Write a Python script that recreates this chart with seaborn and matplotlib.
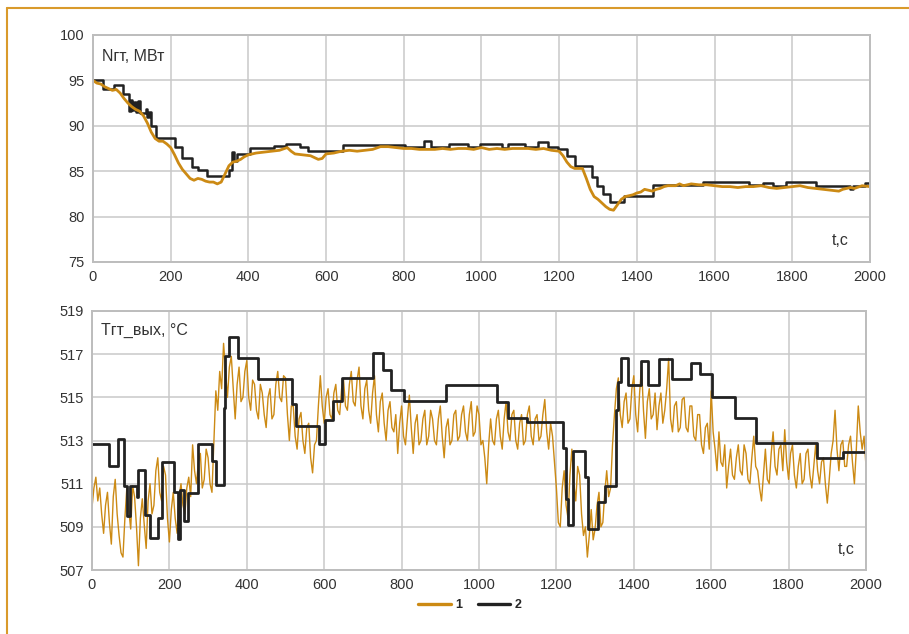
import numpy as np
import pandas as pd
import matplotlib
matplotlib.use("Agg")
import matplotlib.pyplot as plt
import seaborn as sns
from matplotlib.lines import Line2D
from matplotlib.ticker import MultipleLocator

# ---------------- data ----------------
# top panel: Nгт, MW
n_model_t = [0, 10, 20, 30, 40, 50, 60, 70, 80, 90, 100, 110, 120, 130, 140, 150, 160, 170, 180, 190,
             200, 210, 220, 230, 240, 250, 260, 270, 280, 290, 300, 310, 320, 330, 340, 350, 360, 370, 380, 390,
             400, 410, 420, 440, 460, 480, 500, 510, 520, 540, 560, 580, 590, 600, 620, 640, 660, 680, 700, 720,
             740, 760, 780, 800, 820, 840, 860, 880, 900, 920, 940, 960, 980, 1000, 1020, 1040, 1060, 1080, 1100,
             1120, 1140, 1160, 1180, 1200, 1210, 1220, 1230, 1240, 1250, 1260, 1270, 1280, 1290, 1300, 1310, 1320,
             1330, 1340, 1350, 1360, 1370, 1380, 1390, 1400, 1410, 1420, 1430, 1440, 1450, 1460, 1470, 1480, 1500,
             1510, 1520, 1530, 1540, 1560, 1580, 1600, 1620, 1640, 1660, 1680, 1700, 1720, 1740, 1760, 1780, 1800,
             1820, 1840, 1860, 1880, 1900, 1920, 1930, 1950, 1960, 1980, 2000]
n_model = [95.0, 94.7, 94.6, 94.3, 94.1, 93.9, 94.0, 93.6, 93.0, 92.5, 92.1, 91.8, 91.6, 91.1, 90.3, 89.3, 88.6, 88.3, 88.3, 88.0,
           87.6, 86.8, 85.9, 85.2, 84.7, 84.2, 84.0, 84.2, 84.1, 83.9, 83.8, 83.8, 83.6, 83.8, 84.7, 85.6, 86.0, 86.1, 86.3, 86.6,
           86.8, 86.9, 87.0, 87.1, 87.2, 87.3, 87.6, 87.2, 86.9, 86.8, 86.7, 86.3, 86.4, 86.9, 87.0, 87.2, 87.3, 87.2, 87.3, 87.4,
           87.7, 87.7, 87.6, 87.5, 87.5, 87.4, 87.4, 87.4, 87.5, 87.4, 87.5, 87.5, 87.4, 87.6, 87.4, 87.5, 87.4, 87.5, 87.5,
           87.5, 87.4, 87.5, 87.3, 87.2, 86.7, 86.0, 85.5, 85.3, 85.3, 85.3, 84.2, 83.0, 82.2, 81.9, 81.5, 81.1,
           80.8, 80.7, 81.3, 81.9, 82.2, 82.3, 82.4, 82.6, 82.7, 83.0, 82.9, 82.8, 83.0, 83.1, 83.3, 83.4, 83.4,
           83.6, 83.4, 83.5, 83.6, 83.5, 83.5, 83.4, 83.3, 83.3, 83.2, 83.3, 83.3, 83.4, 83.2, 83.1, 83.2, 83.3,
           83.4, 83.2, 83.1, 83.0, 82.9, 82.8, 83.0, 83.2, 83.1, 83.4, 83.3]

n_meas_t = [0, 26, 54, 77, 92, 97, 100, 105, 110, 115, 120, 127, 137, 140, 145, 150, 163, 211, 229, 254,
            271, 294, 350, 358, 362, 372, 405, 465, 496, 533, 554, 643, 802, 853, 870, 916, 965, 997, 1052,
            1069, 1112, 1146, 1172, 1197, 1219, 1242, 1285, 1297, 1313, 1331, 1368, 1405, 1441, 1570, 1690,
            1724, 1750, 1784, 1862, 1948, 1957, 1987, 2000]
n_meas = [95.05, 94.1, 94.45, 93.55, 91.6, 92.8, 91.7, 92.6, 91.5, 92.7, 91.4, 91.4, 91.9, 91.0, 91.5, 90.0, 88.7, 87.7, 86.4, 85.5,
          85.1, 84.5, 85.1, 87.1, 86.1, 86.9, 87.6, 87.8, 88.0, 87.7, 87.25, 87.9, 87.7, 88.3, 87.7, 88.0, 87.65, 88.0, 87.55,
          88.0, 87.65, 88.25, 87.7, 87.4, 86.7, 85.6, 84.4, 83.4, 82.5, 81.6, 82.3, 82.3, 83.5, 83.85, 83.5,
          83.65, 83.4, 83.8, 83.4, 83.0, 83.35, 83.7, 83.7]

# bottom panel: Tгт_вых, °C  (model every 5 s)
t_model_t = list(range(0, 2001, 5))
t_model = [
    509.9, 510.8, 511.3, 510.2, 510.8, 509.6, 508.7, 510.0, 510.6, 509.2,
    508.2, 510.4, 511.2, 509.6, 508.6, 507.8, 507.6, 509.4, 510.8, 509.8,
    508.9, 510.9, 510.4, 509.0, 507.2, 509.4, 510.3, 509.1, 508.0, 510.2,
    511.0, 509.6, 510.0, 511.6, 512.2, 510.6, 510.2, 511.8, 511.4, 509.4,
    508.3, 509.8, 510.6, 509.4, 508.7, 510.4, 511.0, 510.0, 509.6, 510.8,
    511.3, 510.4, 512.8, 511.6, 511.0, 512.0, 512.4, 510.8, 511.2, 512.6,
    512.2, 511.0, 510.6, 513.0, 515.3, 514.4, 516.2, 515.4, 517.5, 516.2,
    515.0, 516.4, 516.9, 515.4, 514.0, 515.6, 516.4, 514.8, 515.0, 516.2,
    516.7, 515.0, 514.4, 515.8, 515.6, 514.4, 514.0, 515.6, 515.2, 514.2,
    513.6, 515.0, 515.4, 514.0, 514.2, 515.6, 516.2, 515.0, 514.8, 516.0,
    515.9, 514.2, 513.0, 514.6, 514.6, 513.2, 512.6, 514.0, 514.3, 513.0,
    512.4, 513.6, 513.8, 512.2, 511.5, 512.8, 513.0, 514.6, 516.0, 514.6,
    513.8, 515.0, 515.4, 514.2, 514.0, 515.2, 515.6, 514.4, 514.2, 515.4,
    515.8, 514.6, 514.4, 515.6, 516.2, 514.8, 514.6, 515.8, 516.4, 514.6,
    514.0, 515.4, 515.8, 514.4, 513.8, 515.2, 516.0, 514.2, 513.4, 514.8,
    515.2, 513.8, 513.0, 514.4, 514.8, 513.6, 513.4, 514.2, 512.4, 513.8,
    514.6, 513.2, 512.8, 514.0, 515.1, 513.6, 512.4, 513.8, 514.2, 512.8,
    513.0, 514.0, 514.4, 512.8, 513.2, 514.4, 514.0, 513.0, 512.8, 514.0,
    514.6, 513.2, 512.2, 513.6, 514.0, 512.8, 513.0, 514.2, 514.4, 513.0,
    513.2, 514.2, 514.6, 513.4, 513.0, 514.2, 514.8, 513.2, 513.4, 514.6,
    514.2, 512.8, 513.0, 512.2, 511.0, 512.8, 514.0, 513.0, 512.8, 514.0,
    514.4, 513.2, 512.6, 514.0, 514.8, 513.4, 513.0, 514.2, 514.4, 513.0,
    512.6, 513.8, 514.2, 512.8, 513.0, 514.2, 514.6, 513.2, 512.8, 514.0,
    514.2, 513.0, 513.2, 514.2, 514.9, 513.4, 512.6, 513.8, 513.2, 512.0,
    510.8, 509.2, 509.0, 510.8, 511.6, 510.0, 509.4, 511.4, 512.6, 511.0,
    510.2, 511.8, 511.4, 509.6, 508.6, 509.0, 507.6, 508.6, 509.8, 508.4,
    508.9, 510.0, 510.6, 509.0, 509.2, 510.6, 511.6, 510.4, 510.8, 512.8,
    514.2, 515.4, 515.9, 514.2, 513.6, 514.8, 515.2, 513.8, 514.0, 515.4,
    516.0, 514.2, 513.4, 515.2, 516.4, 514.4, 513.1, 514.8, 515.4, 514.0,
    514.2, 515.2, 513.5, 514.6, 515.2, 513.8, 514.4, 515.4, 516.8, 514.0,
    513.4, 514.6, 514.8, 513.4, 513.6, 514.9, 515.0, 513.6, 513.4, 514.6,
    514.6, 513.2, 513.0, 514.2, 514.2, 512.8, 512.4, 513.6, 513.8, 512.6,
    515.3, 513.4, 512.6, 511.6, 513.4, 512.0, 511.8, 512.8, 510.8, 511.8,
    512.6, 511.4, 511.2, 512.2, 512.8, 511.6, 511.4, 512.8, 512.4, 511.2,
    511.0, 512.2, 513.2, 511.8, 511.6, 510.8, 510.2, 511.4, 512.6, 511.2,
    511.0, 512.4, 513.4, 511.8, 511.4, 512.6, 512.8, 511.6, 513.5, 512.0,
    511.2, 512.4, 512.8, 511.4, 510.8, 511.8, 512.4, 511.0, 511.2, 512.4,
    512.6, 511.4, 510.8, 511.8, 512.8, 511.6, 511.0, 512.0, 512.2, 511.0,
    510.1, 511.2, 512.4, 513.0, 514.4, 512.6, 511.6, 512.8, 513.0, 511.8,
    511.8, 512.8, 513.2, 512.0, 511.0, 512.6, 514.6, 513.4, 512.6, 513.2,
    511.8,
]

t_meas_t = [0, 43, 67, 84, 91, 97, 117, 119, 137, 151, 170, 180, 212, 222, 228, 239, 247, 273, 310, 320,
            340, 344, 355, 376, 428, 517, 526, 586, 603, 622, 646, 725, 751, 772, 807, 914, 1047, 1075, 1125,
            1216, 1224, 1230, 1242, 1273, 1282, 1308, 1325, 1354, 1360, 1367, 1385, 1419, 1437, 1466, 1499,
            1549, 1572, 1602, 1662, 1715, 1873, 1941, 2000]
t_meas = [512.85, 511.8, 513.05, 510.9, 509.5, 510.9, 510.4, 511.65, 509.55, 508.5, 509.4, 512.0, 510.6, 508.45, 510.7, 509.25, 510.55, 512.85, 512.05, 510.95,
          514.5, 516.9, 517.8, 516.8, 515.85, 514.7, 513.65, 512.85, 513.95, 514.85, 515.9, 517.07, 516.27, 515.35, 514.85, 515.55, 514.8, 514.05, 513.85,
          512.64, 510.3, 509.1, 512.5, 511.3, 508.9, 510.17, 510.9, 514.4, 515.7, 516.8, 515.55, 516.7, 515.55, 516.76, 515.83,
          516.6, 516.1, 515.0, 514.03, 512.9, 512.2, 512.48, 512.48]

x_ticks = list(range(0, 2001, 200))
top_yticks = [75, 80, 85, 90, 95, 100]
bot_yticks = [507, 509, 511, 513, 515, 517, 519]

ORANGE = "#cc8a14"
BLACK = "#222222"
GRID = "#c9c9c9"
FRAME = "#d99a2b"
TXT = "#333333"

# ---------------- plot ----------------
sns.set_style("white")
plt.rcParams["font.family"] = ["Liberation Sans", "DejaVu Sans"]

fig = plt.figure(figsize=(9.09, 6.34), dpi=100)
ax1 = fig.add_axes([0.1023, 0.5868, 0.8547, 0.358])
ax2 = fig.add_axes([0.1012, 0.1009, 0.8515, 0.4086])

sns.lineplot(x=n_meas_t, y=n_meas, ax=ax1, color=BLACK, linewidth=1.8, drawstyle="steps-post")
sns.lineplot(x=n_model_t, y=n_model, ax=ax1, color=ORANGE, linewidth=2.0)

sns.lineplot(x=t_model_t, y=t_model, ax=ax2, color=ORANGE, linewidth=1.0, label="1")
sns.lineplot(x=t_meas_t, y=t_meas, ax=ax2, color=BLACK, linewidth=2.0, drawstyle="steps-post", label="2")

for ax, yt in ((ax1, top_yticks), (ax2, bot_yticks)):
    ax.set_xlim(0, 2000)
    ax.set_ylim(yt[0], yt[-1])
    ax.set_xticks(x_ticks)
    ax.set_yticks(yt)
    ax.grid(True, color=GRID, linewidth=1.1)
    ax.set_axisbelow(True)
    for sp in ax.spines.values():
        sp.set_color("#bdbdbd")
        sp.set_linewidth(1.4)
    ax.tick_params(axis="both", which="major", length=0, labelsize=10.5, labelcolor=TXT, pad=6)
    ax.set_xlabel("")
    ax.set_ylabel("")

ax2.xaxis.set_minor_locator(MultipleLocator(40))
ax2.yaxis.set_minor_locator(MultipleLocator(0.4))
ax2.tick_params(axis="both", which="minor", direction="in", length=3, width=1, color="#b0b0b0")
ax2.tick_params(axis="x", which="minor", top=False)
ax2.tick_params(axis="y", which="minor", right=False)
ax2.get_legend().remove()

ax1.text(0.012, 0.94, "Nгт, МВт", transform=ax1.transAxes, fontsize=11.5, color=TXT, va="top", ha="left")
ax1.text(0.972, 0.06, "t,c", transform=ax1.transAxes, fontsize=11.5, color=TXT, va="bottom", ha="right")
ax2.text(0.012, 0.955, "Tгт_вых, °C", transform=ax2.transAxes, fontsize=11.5, color=TXT, va="top", ha="left")
ax2.text(0.985, 0.05, "t,c", transform=ax2.transAxes, fontsize=11.5, color=TXT, va="bottom", ha="right")

handles, labels = ax2.get_legend_handles_labels()
leg = fig.legend(handles, labels, loc="center", bbox_to_anchor=(0.517, 1 - 605 / 634), ncol=2, frameon=False,
                 prop={"weight": "bold", "size": 9}, handlelength=2.6, handletextpad=0.4, columnspacing=1.2)
for ln in leg.get_lines():
    ln.set_linewidth(2.4)

# orange frame (top and left edges)
fig.add_artist(Line2D([7 / 909, 1.0], [1 - 8 / 634, 1 - 8 / 634], transform=fig.transFigure, color=FRAME, linewidth=1.5))
fig.add_artist(Line2D([7 / 909, 7 / 909], [0.0, 1 - 8 / 634], transform=fig.transFigure, color=FRAME, linewidth=1.5))

fig.savefig("out.png", dpi=100)
